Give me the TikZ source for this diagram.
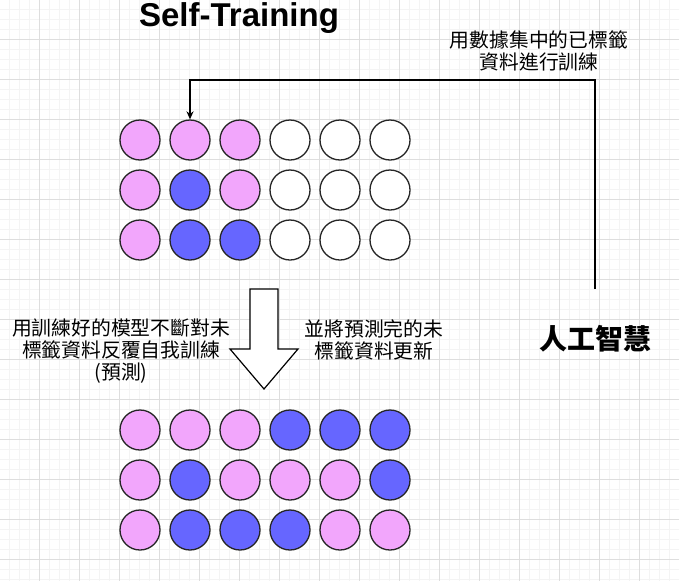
\documentclass[tikz,border=0pt]{standalone}
\usepackage{fontspec}
\setmainfont{Liberation Sans}
\newfontfamily\cjk{Noto Sans CJK TC}
\usetikzlibrary{arrows.meta}

\definecolor{cP}{RGB}{242,166,252}
\definecolor{cB}{RGB}{102,102,255}
\definecolor{cW}{RGB}{255,255,255}
\definecolor{gridmaj}{RGB}{222,222,222}
\definecolor{gridmin}{RGB}{244,244,244}

\tikzset{
	dot/.style={circle,draw=black!85,line width=1.3pt,minimum size=40pt,inner sep=0pt},
	cjktext/.style={align=center,font=\cjk\fontsize{19.8}{22}\selectfont},
}

\begin{document}
\begin{tikzpicture}[x=1pt,y=-1pt]
		\useasboundingbox (0,0) rectangle (679,581);
		\fill[white] (0,0) rectangle (679,581);
		% background grid
		\foreach \x in {0,10,...,680} {
			\draw[gridmin,line width=0.8pt] (\x-1,0) -- (\x-1,581);
		}
		\foreach \y in {0,10,...,590} {
			\draw[gridmin,line width=0.8pt] (0,\y-1) -- (679,\y-1);
		}
		\foreach \x in {40,80,...,680} {
			\draw[gridmaj,line width=1pt] (\x-1,0) -- (\x-1,581);
		}
		\foreach \y in {40,80,...,560} {
			\draw[gridmaj,line width=1pt] (0,\y-1) -- (679,\y-1);
		}

		\node[font=\bfseries\fontsize{33}{36}\selectfont] (title) at (239,18) {Self-Training};

		% before
		\foreach \f [count=\i from 0] in {P,P,P,W,W,W, P,B,P,W,W,W, P,B,B,W,W,W} {
			\pgfmathtruncatemacro\r{\i/6}
			\pgfmathtruncatemacro\c{mod(\i,6)}
			\node[dot,fill=c\f] (t\r\c) at (140+50*\c,140+50*\r) {};
		}
		% after
		\foreach \f [count=\i from 0] in {P,P,P,B,B,B, P,B,P,P,P,B, P,B,B,B,P,P} {
			\pgfmathtruncatemacro\r{\i/6}
			\pgfmathtruncatemacro\c{mod(\i,6)}
			\node[dot,fill=c\f] (b\r\c) at (140+50*\c,430+50*\r) {};
		}

		\node[cjktext] (labeltop) at (539,51) {用數據集中的已標籤\\資料進行訓練};
		\node[cjktext] (labelleft) at (121,351) {用訓練好的模型不斷對未\\標籤資料反覆自我訓練\\(預測)};
		\node[cjktext] (labelright) at (374,340) {並將預測完的未\\標籤資料更新};
		\node[font=\cjk\bfseries\fontsize{28}{30}\selectfont] (ai) at (595,339) {人工智慧};

		\coordinate (src) at (595,289);
		\draw[line width=1.3pt,-{Stealth[length=8pt,width=7pt]}] (src) -- (595,80) -| (t01.north);

		% big arrow
		\draw[line width=1.2pt,fill=white] (250,289) -- (278,289) -- (278,349) -- (298,349)
			-- (264,389) -- (230,349) -- (250,349) -- cycle;
	\end{tikzpicture}
\end{document}
